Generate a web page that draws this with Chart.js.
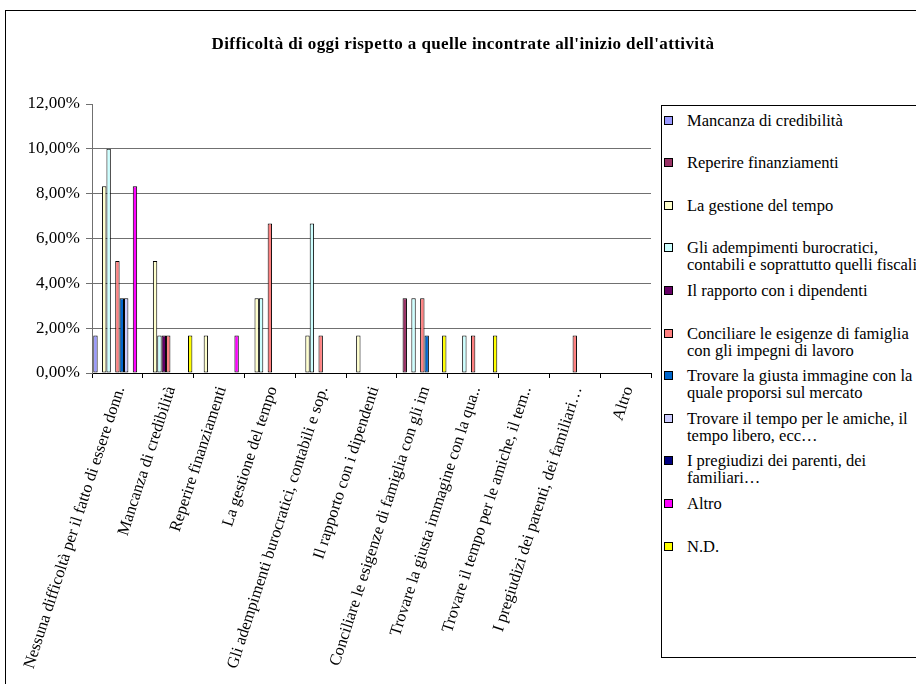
<!DOCTYPE html>
<html>
<head>
<meta charset="utf-8">
<title>Difficoltà di oggi</title>
<script src="https://cdn.jsdelivr.net/npm/chart.js@4.4.0/dist/chart.umd.min.js"></script>
<style>
  html, body { margin: 0; padding: 0; background: #fff; }
  #wrap { position: relative; width: 916px; height: 684px; overflow: hidden; font-family: "Liberation Serif", "DejaVu Serif", "Times New Roman", serif; color: #000; }
  #frame { position: absolute; left: 5px; top: 10px; width: 1000px; height: 1000px; border-left: 1px solid #000; border-top: 1px solid #000; }
  #title { position: absolute; left: 0; width: 926px; top: 35px; text-align: center; font-weight: bold; font-size: 17px; letter-spacing: 0.4px; line-height: 18px; }
  #chart { position: absolute; left: 0; top: 0; }
  #legend { position: absolute; left: 661px; top: 105px; width: 300px; height: 551px; border: 1px solid #000; background: #fff; }
  .item { position: absolute; left: 2px; font-size: 16.5px; line-height: 17px; white-space: pre; }
  .sw { position: absolute; left: 0; top: 4px; width: 7px; height: 7px; border: 1px solid #000; }
  .txt { position: absolute; left: 23px; top: 0; }
</style>
</head>
<body>
<div id="wrap">
  <div id="frame"></div>
  <canvas id="chart" width="916" height="684"></canvas>
  <div id="title">Difficoltà di oggi rispetto a quelle incontrate all'inizio dell'attività</div>
  <div id="legend"></div>
</div>
<script>
// categorie sull'asse x
const categories = [
    'Nessuna difficoltà per il fatto di essere donn.',
    'Mancanza di credibilità',
    'Reperire finanziamenti',
    'La gestione del tempo',
    'Gli adempimenti burocratici, contabili e sop.',
    'Il rapporto con i dipendenti',
    'Conciliare le esigenze di famiglia con gli im',
    'Trovare la giusta immagine con la qua..',
    'Trovare il tempo per le amiche, il tem..',
    'I pregiudizi dei parenti, dei familiari…',
    'Altro'
];

// valori in % per ogni serie (stesso ordine delle categorie)
const mancanza    = [1.67, 0, 0, 0, 0, 0, 0, 0, 0, 0, 0];
const reperire    = [0, 0, 0, 0, 0, 0, 3.33, 0, 0, 0, 0];
const gestione    = [8.33, 5, 1.67, 3.33, 1.67, 1.67, 0, 0, 0, 0, 0];
const adempimenti = [10, 1.67, 0, 3.33, 6.67, 0, 3.33, 1.67, 0, 0, 0];
const rapporto    = [0, 1.67, 0, 0, 0, 0, 0, 0, 0, 0, 0];
const conciliare  = [5, 1.67, 0, 6.67, 1.67, 0, 3.33, 1.67, 0, 1.67, 0];
const immagine    = [3.33, 0, 0, 0, 0, 0, 1.67, 0, 0, 0, 0];
const tempoLibero = [3.33, 0, 0, 0, 0, 0, 0, 0, 0, 0, 0];
const pregiudizi  = [0, 0, 0, 0, 0, 0, 0, 0, 0, 0, 0];
const altro       = [8.33, 0, 1.67, 0, 0, 0, 0, 0, 0, 0, 0];
const nonDati     = [0, 1.67, 0, 0, 0, 0, 1.67, 1.67, 0, 0, 0];

// nomi delle serie (\n = a capo nella legenda)
const seriesNames = [
    'Mancanza di credibilità',
    'Reperire finanziamenti',
    'La gestione del tempo',
    'Gli adempimenti burocratici,\ncontabili e soprattutto quelli fiscali',
    'Il rapporto con i dipendenti',
    'Conciliare le esigenze di famiglia\ncon gli impegni di lavoro',
    'Trovare la giusta immagine con la\nquale proporsi sul mercato',
    'Trovare il tempo per le amiche, il\ntempo libero, ecc…',
    'I pregiudizi dei parenti, dei\nfamiliari…',
    'Altro',
    'N.D.'
];
const seriesValues = [mancanza, reperire, gestione, adempimenti, rapporto, conciliare,
                      immagine, tempoLibero, pregiudizi, altro, nonDati];
const seriesColors = ['#9999FF', '#993366', '#FFFFCC', '#CCFFFF', '#660066', '#FF8080',
                      '#0066CC', '#CCCCFF', '#000080', '#FF00FF', '#FFFF00'];

const yMin = 0, yMax = 12, yStep = 2;

const serif = '"Liberation Serif", "DejaVu Serif", "Times New Roman", serif';

const datasets = seriesNames.map((name, i) => ({
    label: name.replace('\n', ' '),
    data: seriesValues[i],
    backgroundColor: seriesColors[i],
    borderColor: '#000',
    borderWidth: 1,
    borderSkipped: false,
    categoryPercentage: 0.95,
    barPercentage: 1.0
}));

new Chart(document.getElementById('chart').getContext('2d'), {
    type: 'bar',
    data: { labels: categories, datasets: datasets },
    options: {
        responsive: false,
        animation: false,
        layout: { padding: { top: 104, right: 265, left: 0, bottom: 0 } },
        plugins: {
            legend: { display: false },
            title: { display: false },
            tooltip: { enabled: false }
        },
        scales: {
            x: {
                ticks: {
                    autoSkip: false,
                    minRotation: 72,
                    maxRotation: 72,
                    padding: 6,
                    labelOffset: 3,
                    color: '#000',
                    font: { family: serif, size: 16.5 }
                },
                grid: { display: true, drawOnChartArea: false, offset: true, tickLength: 5, color: '#000' },
                border: { color: '#000' },
                afterFit: s => { s.height = 684 - 373; }
            },
            y: {
                min: yMin,
                max: yMax,
                ticks: {
                    stepSize: yStep,
                    padding: 6,
                    color: '#000',
                    font: { family: serif, size: 17 },
                    callback: v => v.toFixed(2).replace('.', ',') + '%'
                },
                grid: {
                    color: c => (c.tick && (c.tick.value === yMax || c.tick.value === yMin)) ? 'rgba(0,0,0,0)' : '#707070',
                    tickColor: '#707070',
                    tickLength: 6
                },
                border: { color: '#707070' },
                afterFit: s => { s.width = 92; }
            }
        }
    }
});

// legenda HTML
const legend = document.getElementById('legend');
seriesNames.forEach((name, i) => {
    const item = document.createElement('div');
    item.className = 'item';
    item.style.top = (14 + i * 42.6 - 8.5) + 'px';
    const sw = document.createElement('span');
    sw.className = 'sw';
    sw.style.background = seriesColors[i];
    const txt = document.createElement('span');
    txt.className = 'txt';
    txt.textContent = name;
    item.appendChild(sw);
    item.appendChild(txt);
    legend.appendChild(item);
});
</script>
</body>
</html>
